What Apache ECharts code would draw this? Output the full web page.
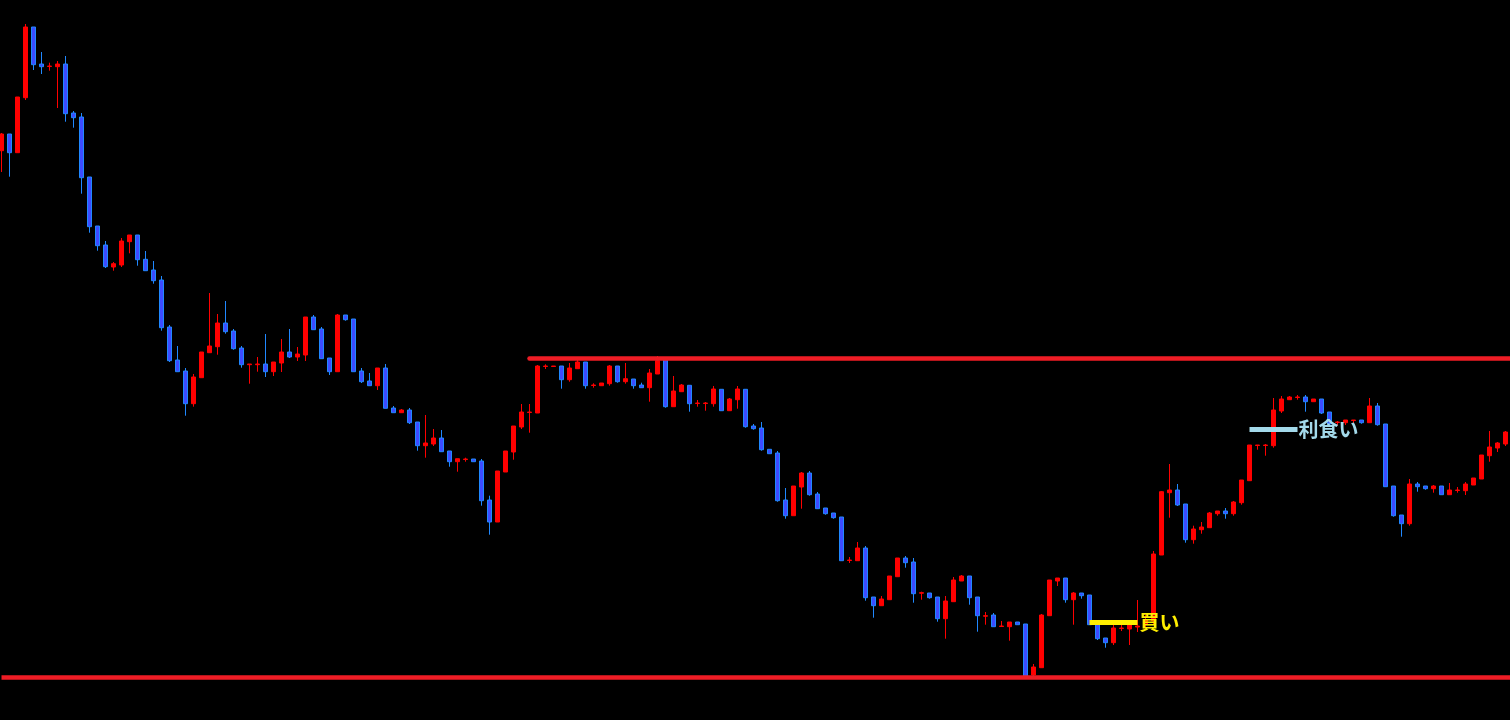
<!DOCTYPE html>
<html>
<head>
<meta charset="utf-8">
<title>candles</title>
<script src="https://cdn.jsdelivr.net/npm/echarts@6.0.0/dist/echarts.min.js"></script>
<style>
  html, body { margin: 0; padding: 0; background: #000; }
  #chart { width: 1510px; height: 720px; }
</style>
</head>
<body>
<div id="chart"></div>
<script>
// ローソク足 (始値・終値・安値・高値)
const opens = [
  569.3,586,567.3,622.3,693,656,653.5,653.3,656,607,
  603,543,494,475,453,455,478.3,485,460.7,450,
  440,393,360,349,316.3,342.3,367.3,373.3,397,389,
  372,355.3,355.3,356,348.3,357,368,363,365,403,
  391,362,348.3,405,401,349,339,334.3,352,312,
  307.3,310,298,274.3,276,282,269,258.3,260.5,261,
  259,220,198,248,268,293,307.5,307,353.5,353.5,
  354,340.3,351.3,358,334.5,334.3,336.3,354,338.3,341,
  335,332.3,346,360,313.3,328.3,334.7,316.5,316.5,316.3,
  330.7,309.3,320.3,330.7,294,292,270.7,267,220,204.3,
  233,247,226,212,207,203,159.5,159.3,172,123,
  114.3,120.3,143.3,162,158,126.8,127,123,101.3,118.3,
  139,144,123,103.8,105,93.5,93.3,98,96,45,
  52.3,104.3,139,142,120.3,127,125,96,82,77.3,
  91.5,91,93,96,99,165,227.3,230,216,180.3,
  190.3,192.3,206.3,209,206.3,217.3,239.3,274.5,274.5,274.3,
  309,320.3,322.5,323,318.3,321,308,297.5,297.3,299.5,
  300,297.3,314,296,234,205,196.3,236,234,231.3,
  234,225.3,229.5,229.3,235,241,264.3,272,276
];
const closes = [
  586,567.3,623,693,655.3,653.3,654,656,606.3,602.3,
  542.3,493.3,474.3,453.3,456.3,479,485,460.3,449.3,439.3,
  392.3,359.3,348.3,316.3,343,368,374,397,388.3,371.3,
  355.3,356,356,348.3,358,368,363,366,403,390.3,
  361.3,348.3,405,400.3,348.3,338.3,334.3,352,311.7,307.3,
  310,297.3,274.3,277,282,268.3,258.3,261.3,261,258.3,
  219.3,198,249,269,294,308,308,354,354,354,
  340.3,352,358,334.3,335,337,354,338.3,341.3,334.3,
  332.3,347,359.3,313.3,329,335,316.3,317,317,331,
  309.3,321,331,293.3,291.3,270.3,266.3,219.3,204.3,234,
  247,225.3,211.3,206.3,202.3,159.3,160,172,122.3,114.3,
  121,144,162,157.3,126.3,127.3,122.3,101.3,119,140,
  144,122.3,104.3,104.3,93.3,94,98,95.3,44,53,
  105,140,142,120.3,127,124.3,95.3,81.3,77.3,92,
  92,95,94,100,166,228.3,230,215,180.3,191,
  193,207,209,206.3,218,240,275,275,275,310,
  321,323,323,318.3,321,307,296,298,300,300,
  297.3,314,295.3,233.3,204.3,196.3,236,233.3,231.3,234,
  225.3,230,230,236,242,265,273,277,288
];
const lows = [
  548,543.3,567.3,620,650,646,649.3,612,598.3,592.3,
  526.3,487.3,469.3,452,449.3,453,466.7,454.3,449.3,436.3,
  389.3,358,348.3,304.3,313.3,342.3,367.3,365.3,386.3,370.3,
  352.3,336.3,348.3,343,344,348,362,359,359,390.3,
  361.3,345,348.3,399.3,348.3,337,334.3,330,311.7,307.3,
  307.3,296,269.3,262.3,274,268.3,253.3,248.3,258.3,258.3,
  214.3,185.3,198,248,260.3,291,287.3,307,351,353.5,
  331.3,338.3,351.3,331.3,332.3,334.3,334.3,337.3,336.3,331.3,
  332.3,318.3,346,312.3,313.3,328.3,308.3,313.3,309.3,313.3,
  309.3,309.3,311.3,292.3,290.3,269.3,266.3,218.3,201.3,204.3,
  211.3,224.3,211.3,205.3,201.3,159.3,157,159.3,119.3,102.3,
  114.3,120.3,143.3,152.3,117.3,120.3,121.3,98.3,81.3,118.3,
  139,115.3,88.3,95.3,93.3,93.5,79.3,95.3,43,44,
  52.3,104.3,134,117.3,95.3,121.3,95.3,80,72.3,75,
  89,75,88,92,96,165,202.3,214,177.3,176.3,
  186.3,192.3,204.3,201.3,204.3,215.3,239.3,270.3,264.3,272.3,
  307,320.3,320.3,308.3,318.3,306,294,295,295,297,
  296.3,297.3,294.3,233.3,203.3,183.3,194.3,228.3,230.3,227.3,
  225.3,225.3,227.3,225,235,241,258.3,268,274
];
const highs = [
  587,586,623,696,693,668,657.3,659,664,609,
  607,543,494,479,458,482,485,485,469,459,
  444,395,374,352,346,368,427,406,419,391,
  374,356,363,386,358,381,391,373,403,405,
  393,362,406,405,401,352,347,352,356,314,
  311,312,298,305,291,290,269,261.3,262.3,261,
  261,224.3,249,269,294,316,316,355,355.7,354,
  354,357,360,358,336.7,337,355,354,357,341,
  337.3,351,364,363,344,336,334.7,320,318,334,
  330.7,322,334,330.7,296,298,270.7,269,232,234,
  248,249,228,212,207,203,163,178,174,123,
  124,144,162,164,162,128.3,127,123,124,143,
  145,144,123,108,107,99,98,98,96,56,
  106,140,142,142,128,127,125,96,82,95,
  95,98,120,105,169,229,256,236,216,194.3,
  198,208,209,212,219,240,275,275,276,322,
  324,324,325,325,321,321,308,299,300,300,
  300,322,317,296,234,205,241,238,234,235,
  234,237,233,238,242,265,289,278,289
];

// ライン (レジスタンス / サポート / 買い / 利食い)
const resistance = 362;
const support = 42.5;
const buyPrice = 97.5;
const takeProfit = 290.5;
const resistanceFrom = 66;
const buyFrom = 136, buyTo = 142;
const tpFrom = 156, tpTo = 162;

// 最後に空の足を一本足して右端まで線を伸ばす
const bars = opens.map((_, i) => 'bar ' + (i + 1));
bars.push('');
const lastBar = bars.length - 1;

const candles = opens.map((o, i) => [o, closes[i], lows[i], highs[i]]);

const chart = echarts.init(document.getElementById('chart'));

chart.setOption({
  backgroundColor: '#000',
  animation: false,
  grid: { left: -2.5, top: 0, width: 1520, height: 720, outerBoundsMode: 'none' },
  xAxis: { type: 'category', data: bars, show: false, boundaryGap: true },
  yAxis: { type: 'value', min: 0, max: 720, show: false },
  series: [
    {
      type: 'candlestick',
      data: candles,
      barWidth: 5,
      itemStyle: {
        color: '#ff0000',
        color0: '#3d4bff',
        borderColor: '#ff0000',
        borderColor0: '#2088ff',
        borderWidth: 1
      },
      markLine: {
        silent: true,
        symbol: ['none', 'none'],
        animation: false,
        data: [
          [
            { coord: [resistanceFrom, resistance],
              lineStyle: { color: '#ee1c25', width: 4.5, type: 'solid', cap: 'round' },
              label: { show: false } },
            { coord: [lastBar, resistance] }
          ],
          [
            { coord: [0, support],
              lineStyle: { color: '#ee1c25', width: 4.5, type: 'solid', cap: 'butt' },
              label: { show: false } },
            { coord: [lastBar, support] }
          ],
          [
            { coord: [buyFrom, buyPrice],
              lineStyle: { color: '#ffee00', width: 5, type: 'solid', cap: 'butt' },
              label: {
                show: true, position: 'end', formatter: '買い', distance: 2,
                color: '#ffee00', fontSize: 20, fontWeight: 'bold',
                fontFamily: 'Noto Sans CJK JP'
              } },
            { coord: [buyTo, buyPrice] }
          ],
          [
            { coord: [tpFrom, takeProfit],
              lineStyle: { color: '#a3d9ea', width: 5, type: 'solid', cap: 'butt' },
              label: {
                show: true, position: 'end', formatter: '利食い', distance: 1,
                color: '#a3d9ea', fontSize: 20, fontWeight: 'bold',
                fontFamily: 'Noto Sans CJK JP'
              } },
            { coord: [tpTo, takeProfit] }
          ]
        ]
      }
    }
  ]
});
</script>
</body>
</html>
